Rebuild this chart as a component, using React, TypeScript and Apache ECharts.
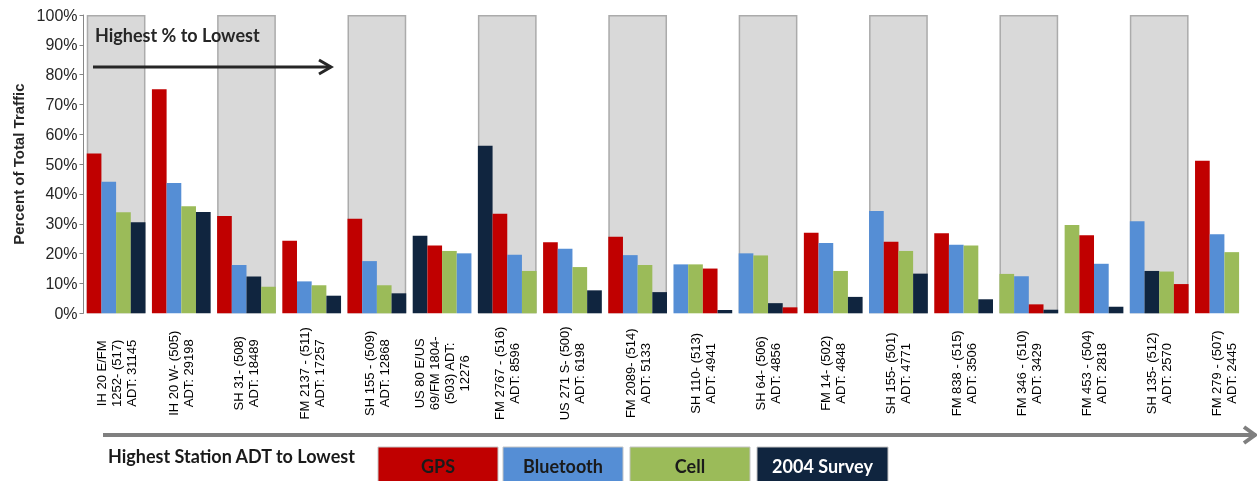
import React, { useEffect, useRef } from "react";
import * as echarts from "echarts";

// Count stations, ordered from highest station ADT to lowest
const stations = [
  "IH 20 E/FM\n1252- (517)\nADT: 31145",
  "IH 20 W- (505)\nADT: 29198",
  "SH 31- (508)\nADT: 18489",
  "FM 2137 - (511)\nADT: 17257",
  "SH 155 - (509)\nADT: 12868",
  "US 80 E/US\n69/FM 1804-\n(503) ADT:\n12276",
  "FM 2767 - (516)\nADT: 8596",
  "US 271 S- (500)\nADT: 6198",
  "FM 2089- (514)\nADT: 5133",
  "SH 110- (513)\nADT: 4941",
  "SH 64- (506)\nADT: 4856",
  "FM 14- (502)\nADT: 4848",
  "SH 155- (501)\nADT: 4771",
  "FM 838 - (515)\nADT: 3506",
  "FM 346 - (510)\nADT: 3429",
  "FM 453 - (504)\nADT: 2818",
  "SH 135- (512)\nADT: 2570",
  "FM 279 - (507)\nADT: 2445",
];

// Percent of total traffic captured by each data source
const gps = [53.6, 75.1, 32.6, 24.3, 31.7, 22.7, 33.4, 23.8, 25.7, 15.0, 2.0, 27.0, 24.0, 26.8, 3.0, 26.2, 9.8, 51.1];
const bluetooth = [44.1, 43.7, 16.2, 10.7, 17.5, 20.1, 19.6, 21.6, 19.5, 16.4, 20.1, 23.6, 34.3, 23.0, 12.4, 16.6, 30.9, 26.5];
const cell = [33.9, 35.9, 8.9, 9.4, 9.4, 20.9, 14.2, 15.5, 16.2, 16.4, 19.4, 14.2, 20.9, 22.7, 13.2, 29.6, 14.0, 20.5];
const survey = [30.5, 34.0, 12.3, 5.9, 6.7, 26.0, 56.2, 7.7, 7.1, 1.1, 3.4, 5.5, 13.3, 4.7, 1.2, 2.2, 14.2, null];

const sources = ["GPS", "Bluetooth", "Cell", "2004 Survey"];
const sourceColors = ["#c00000", "#558ed5", "#9bbb59", "#10253f"];
const sourceTextColors = ["#1a1a1a", "#1a1a1a", "#1a1a1a", "#ffffff"];

// Y-axis scale (percent)
const yMin = 0;
const yMax = 100;
const yStep = 10;

const BAND_GAP = "9.9%";

function buildRankSeries() {
  const table = [gps, bluetooth, cell, survey];
  // within every station, bars run from highest share to lowest
  const ranked = stations.map((_, i) =>
    table
      .map((arr, s) => ({ s, v: arr[i] as number | null }))
      .filter((d) => d.v !== null && d.v !== undefined)
      .sort((a, b) => (b.v as number) - (a.v as number) || a.s - b.s)
  );
  return [0, 1, 2, 3].map((rank) => ({
    type: "bar",
    name: "rank" + rank,
    xAxisIndex: 0,
    barGap: "0%",
    barCategoryGap: BAND_GAP,
    z: 3,
    data: ranked.map((list) => {
      const d = list[rank];
      if (!d) return "-";
      return { value: d.v, itemStyle: { color: sourceColors[d.s] } };
    }),
  }));
}

export default function App() {
  const ref = useRef<HTMLDivElement>(null);

  useEffect(() => {
    if (!ref.current) return;
    const chart = echarts.init(ref.current, undefined, { renderer: "svg" });

    const legendX = [378, 503, 630, 757];
    const legendW = [120, 120, 120, 131];

    const legendEls: any[] = [];
    sources.forEach((name, i) => {
      legendEls.push({
        type: "rect",
        shape: { x: legendX[i], y: 447, width: legendW[i], height: 38 },
        style: { fill: sourceColors[i], stroke: "#c4c4c4", lineWidth: 1 },
      });
      legendEls.push({
        type: "text",
        x: legendX[i] + legendW[i] / 2,
        y: 466,
        style: {
          text: name,
          fill: sourceTextColors[i],
          font: "bold 18px Lato",
          textAlign: "center",
          textVerticalAlign: "middle",
        },
      });
    });

    chart.setOption({
      animation: false,
      textStyle: { fontFamily: "Liberation Sans" },
      grid: { left: 83.5, top: 15, width: 1198.8, height: 298.3, containLabel: false },
      xAxis: [
        {
          type: "category",
          data: stations,
          axisLine: { show: false },
          axisTick: { show: false },
          axisLabel: {
            interval: 0,
            rotate: 90,
            align: "center",
            verticalAlign: "middle",
            margin: 60,
            fontSize: 13,
            lineHeight: 15,
            color: "#000",
            fontFamily: "Liberation Sans",
          },
        },
        {
          type: "category",
          data: stations,
          show: false,
        },
      ],
      yAxis: {
        type: "value",
        min: yMin,
        max: yMax,
        interval: yStep,
        name: "Percent of Total Traffic",
        nameLocation: "middle",
        nameGap: 58,
        nameTextStyle: {
          fontFamily: "Liberation Sans",
          fontWeight: "bold",
          fontSize: 15,
          color: "#262626",
        },
        axisLine: { show: true, lineStyle: { color: "#868686", width: 1 } },
        axisTick: { show: true, length: 4, lineStyle: { color: "#868686" } },
        splitLine: { show: false },
        axisLabel: {
          formatter: "{value}%",
          fontSize: 16,
          color: "#262626",
          margin: 6,
          fontFamily: "Liberation Sans",
        },
      },
      series: [
        {
          // shaded panels behind every other station
          type: "bar",
          name: "panel",
          xAxisIndex: 1,
          barCategoryGap: BAND_GAP,
          silent: true,
          z: 1,
          itemStyle: { color: "#d9d9d9", borderColor: "#ababab", borderWidth: 1.5 },
          data: stations.map((_, i) => (i % 2 === 0 ? yMax : "-")),
        },
        ...buildRankSeries(),
      ],
      graphic: [
        {
          type: "text",
          x: 95,
          y: 44,
          z: 10,
          style: {
            text: "Highest % to Lowest",
            fill: "#262626",
            font: "bold 18px Lato",
            textVerticalAlign: "bottom",
          },
        },
        {
          type: "line",
          z: 10,
          shape: { x1: 93, y1: 67, x2: 331, y2: 67 },
          style: { stroke: "#262626", lineWidth: 3 },
        },
        {
          type: "polyline",
          z: 10,
          shape: { points: [[319, 60], [331, 67], [319, 74]] },
          style: { stroke: "#262626", lineWidth: 3, fill: null },
        },
        {
          type: "line",
          shape: { x1: 103, y1: 435, x2: 1256, y2: 435 },
          style: { stroke: "#7f7f7f", lineWidth: 4 },
        },
        {
          type: "polyline",
          shape: { points: [[1244, 427], [1255, 435], [1244, 443]] },
          style: { stroke: "#7f7f7f", lineWidth: 4, fill: null },
        },
        {
          type: "text",
          x: 108,
          y: 456,
          style: {
            text: "Highest Station ADT to Lowest",
            fill: "#1a1a1a",
            font: "bold 18px Lato",
            textVerticalAlign: "middle",
          },
        },
        ...legendEls,
      ],
    });

    return () => chart.dispose();
  }, []);

  return (
    <div
      ref={ref}
      style={{ position: "fixed", left: 0, top: 0, width: 1257, height: 481 }}
    />
  );
}
